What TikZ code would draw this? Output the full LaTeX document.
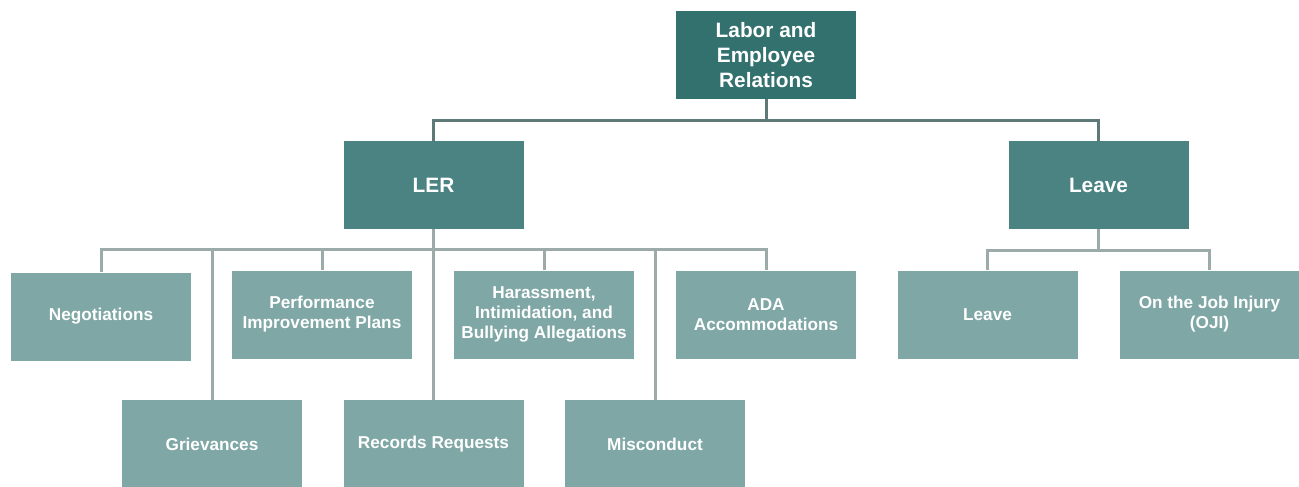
\documentclass[tikz,border=0pt]{standalone}
\usepackage{fontspec}
\setmainfont{Liberation Sans}
\usetikzlibrary{calc}
\definecolor{topfill}{HTML}{33716F}
\definecolor{midfill}{HTML}{4A8382}
\definecolor{leaffill}{HTML}{7FA7A6}
\definecolor{topline}{HTML}{5E7977}
\definecolor{leafline}{HTML}{9CAAA9}
\begin{document}
\begin{tikzpicture}[x=1pt,y=-1pt,
  box/.style={rectangle, inner sep=0pt, minimum width=180pt, minimum height=88pt,
    align=center, text=white, font=\bfseries},
  topbox/.style={box, fill=topfill, font=\bfseries\fontsize{20.8}{25}\selectfont},
  midbox/.style={box, fill=midfill, font=\bfseries\fontsize{20.8}{25}\selectfont},
  leafbox/.style={box, fill=leaffill, font=\bfseries\fontsize{17.2}{20}\selectfont},
  upper/.style={draw=topline, line width=3pt},
  lower/.style={draw=leafline, line width=3pt}]
\useasboundingbox (0,0) rectangle (1299,487);

% level 1
\node[topbox] (top) at (766,55) {Labor and\\Employee\\Relations};

% level 2
\node[midbox] (ler) at (433.5,185) {LER};
\node[midbox] (leave) at (1098.5,185) {Leave};

% level 3, LER branch
\node[leafbox] (neg) at (101,316.5) {Negotiations};
\node[leafbox] (pip) at (322,314.5) {Performance\\Improvement Plans};
\node[leafbox] (har) at (544,314.5) {Harassment,\\Intimidation, and\\Bullying Allegations};
\node[leafbox] (ada) at (766,314.5) {ADA\\Accommodations};
\node[leafbox] (gri) at (212,444) {Grievances};
\node[leafbox] (rec) at (433.5,444) {Records Requests};
\node[leafbox] (mis) at (655,444) {Misconduct};

% level 3, Leave branch
\node[leafbox] (lv) at (987.5,314.5) {Leave};
\node[leafbox] (oji) at (1209.5,314.5) {On the Job Injury\\(OJI)};

% connectors
\foreach \c in {ler,leave}
  \draw[upper] (top.south) -- ++(0,21) -| (\c.north);
\foreach \c in {neg,pip,har,ada,gri,rec,mis}
  \draw[lower] (ler.south) -- ++(0,20) -| (\c.north);
\foreach \c in {lv,oji}
  \draw[lower] (leave.south) -- ++(0,21) -| (\c.north);
\end{tikzpicture}
\end{document}
